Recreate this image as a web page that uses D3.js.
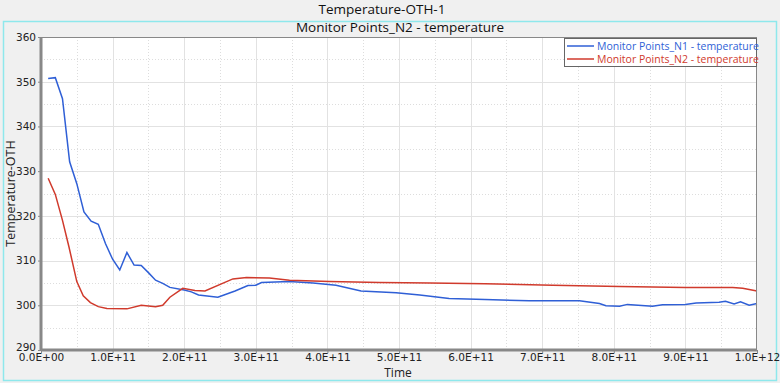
<!DOCTYPE html>
<style>
body { margin: 0; background: #f0f0f0; }
text { font-family: "Open Sans", "Noto Sans", sans-serif; }
.tick text { font-family: "DejaVu Sans", sans-serif; font-size: 10.5px; fill: #222; }
.axis .domain { display: none; }
</style>
<svg width="780" height="383"></svg>
<script src="https://d3js.org/d3.v7.min.js"></script>
<script>

var n1Time = [1e10, 2e10, 3e10, 4e10, 5e10, 6e10, 7e10, 8e10, 9e10, 1.0e11, 1.1e11, 1.2e11, 1.3e11, 1.4e11, 1.5e11,
  1.6e11, 1.7e11, 1.8e11, 2.0e11, 2.1e11, 2.2e11, 2.47e11, 2.71e11, 2.89e11, 3.0e11, 3.08e11, 3.47e11, 3.8e11,
  4.12e11, 4.47e11, 4.96e11, 5.29e11, 5.7e11, 6.2e11, 6.82e11, 7.52e11, 7.8e11, 7.89e11, 8.08e11, 8.19e11,
  8.54e11, 8.68e11, 9.0e11, 9.15e11, 9.47e11, 9.56e11, 9.68e11, 9.77e11, 9.89e11, 1.0e12];
var n1Temp = [350.7, 350.9, 346.2, 332.1, 327.2, 320.9, 318.8, 318.1, 313.8, 310.3, 307.9, 311.8, 309.0, 308.9, 307.3,
  305.6, 304.9, 304.0, 303.4, 303.0, 302.3, 301.8, 303.2, 304.4, 304.5, 305.1, 305.3, 305.0,
  304.5, 303.2, 302.8, 302.3, 301.5, 301.3, 301.0, 301.0, 300.4, 299.9, 299.8, 300.2,
  299.8, 300.1, 300.2, 300.5, 300.7, 300.9, 300.3, 300.8, 300.0, 300.4];

var n2Time = [1e10, 2e10, 3e10, 3.9e10, 5e10, 5.9e10, 6.9e10, 8e10, 9.2e10, 1.2e11, 1.4e11, 1.6e11, 1.7e11, 1.8e11,
  1.98e11, 2.15e11, 2.29e11, 2.68e11, 2.87e11, 3.19e11, 3.47e11, 4.03e11, 4.73e11, 5.43e11, 6.2e11, 7.15e11,
  8.08e11, 9.0e11, 9.66e11, 9.8e11, 1.0e12];
var n2Temp = [328.4, 324.8, 319.0, 313.1, 305.3, 302.1, 300.6, 299.7, 299.3, 299.2, 300.0, 299.7, 300.0, 301.8,
  303.8, 303.3, 303.2, 305.9, 306.2, 306.1, 305.6, 305.3, 305.1, 305.0, 304.8, 304.5,
  304.2, 304.0, 304.0, 303.8, 303.2];

var xTicks = d3.range(0, 11).map(function(i) { return i * 1e11; });
var yTicks = [290, 300, 310, 320, 330, 340, 350, 360];

var series = [
  {name: "Monitor Points_N1 - temperature", color: "#2f5fd6", t: n1Time, v: n1Temp},
  {name: "Monitor Points_N2 - temperature", color: "#d03a2c", t: n2Time, v: n2Temp}
];

var svg = d3.select("svg"),
    margin = {top: 37, right: 23, bottom: 33, left: 41},
    width = +svg.attr("width") - margin.left - margin.right,
    height = +svg.attr("height") - margin.top - margin.bottom;

// outer frame
svg.append("rect")
    .attr("x", 3.5).attr("y", 21.5).attr("width", 773).attr("height", 359)
    .attr("fill", "#f0f0f0").attr("stroke", "#8ee8ec").attr("stroke-width", 1.5);

svg.append("text").attr("x", 382).attr("y", 13.5).attr("text-anchor", "middle")
    .attr("font-size", 13.5).attr("fill", "#111").text("Temperature-OTH-1");
svg.append("text").attr("x", 400).attr("y", 32).attr("text-anchor", "middle")
    .attr("font-size", 13.5).attr("fill", "#111").text("Monitor Points_N2 - temperature");

var g = svg.append("g").attr("transform", "translate(" + margin.left + "," + margin.top + ")");

var x = d3.scaleLinear().domain([0, 1e12]).range([0, width]);
var y = d3.scaleLinear().domain([290, 360]).range([height, 0]);

g.append("rect").attr("width", width).attr("height", height).attr("fill", "#fff");

// minor grid (dotted)
g.append("g").selectAll("line")
    .data(xTicks.slice(0, -1).map(function(d) { return d + 5e10; }))
    .enter().append("line")
      .attr("x1", function(d) { return Math.round(x(d)) + 0.5; })
      .attr("x2", function(d) { return Math.round(x(d)) + 0.5; })
      .attr("y1", 0).attr("y2", height)
      .attr("stroke", "#ddd").attr("stroke-dasharray", "1,2");
g.append("g").selectAll("line")
    .data(yTicks.slice(0, -1).map(function(d) { return d + 5; }))
    .enter().append("line")
      .attr("y1", function(d) { return Math.round(y(d)) + 0.5; })
      .attr("y2", function(d) { return Math.round(y(d)) + 0.5; })
      .attr("x1", 0).attr("x2", width)
      .attr("stroke", "#ddd").attr("stroke-dasharray", "1,2");

// major grid
g.append("g").selectAll("line")
    .data(xTicks.slice(1, -1))
    .enter().append("line")
      .attr("x1", function(d) { return Math.round(x(d)) + 0.5; })
      .attr("x2", function(d) { return Math.round(x(d)) + 0.5; })
      .attr("y1", 0).attr("y2", height)
      .attr("stroke", "#e2e2e2");
g.append("g").selectAll("line")
    .data(yTicks.slice(1, -1))
    .enter().append("line")
      .attr("y1", function(d) { return Math.round(y(d)) + 0.5; })
      .attr("y2", function(d) { return Math.round(y(d)) + 0.5; })
      .attr("x1", 0).attr("x2", width)
      .attr("stroke", "#e2e2e2");

// lines
var line = d3.line()
    .x(function(d) { return x(d[0]); })
    .y(function(d) { return y(d[1]); });

series.forEach(function(s) {
  g.append("path")
      .datum(d3.zip(s.t, s.v))
      .attr("fill", "none")
      .attr("stroke", s.color)
      .attr("stroke-width", 1.5)
      .attr("d", line);
});

// frame
g.append("rect").attr("x", 0.5).attr("y", 0.5).attr("width", width - 1).attr("height", height - 1)
    .attr("fill", "none").attr("stroke", "#888");
g.append("line").attr("x1", 0).attr("x2", 0).attr("y1", 0).attr("y2", height)
    .attr("stroke", "#888").attr("stroke-width", 3);
g.append("line").attr("x1", 0).attr("x2", width).attr("y1", height).attr("y2", height)
    .attr("stroke", "#888").attr("stroke-width", 3);

// axes
g.append("g")
    .attr("class", "axis")
    .attr("transform", "translate(0," + height + ")")
    .call(d3.axisBottom(x).tickValues(xTicks).tickSize(3).tickPadding(1)
      .tickFormat(function(d) { return d3.format(".1e")(d).replace("e+", "E+0").replace(/E\+0(\d\d)/, "E+$1").toUpperCase(); }))
    .call(function(a) { a.selectAll(".tick line").attr("stroke", "#888"); });

g.append("g")
    .attr("class", "axis")
    .call(d3.axisLeft(y).tickValues(yTicks).tickSize(3).tickPadding(2))
    .call(function(a) {
      a.selectAll(".tick line").attr("stroke", "#888");
      a.selectAll(".tick text").attr("dy", function(d) { return d === 290 ? "0em" : "0.32em"; });
    });

svg.append("text")
    .attr("x", 398).attr("y", 377).attr("text-anchor", "middle")
    .attr("font-size", 12).attr("fill", "#222").text("Time");
svg.append("text")
    .attr("transform", "translate(15," + (margin.top + height / 2) + ") rotate(-90)")
    .attr("text-anchor", "middle")
    .attr("font-size", 12.5).attr("fill", "#222").text("Temperature-OTH");

// legend
var legend = g.append("g").attr("transform", "translate(" + (width - 193) + ",1)");
legend.append("rect").attr("x", 0.5).attr("y", 0.5).attr("width", 192).attr("height", 28)
    .attr("fill", "#fff").attr("stroke", "#666");
var item = legend.selectAll(".item")
    .data(series)
    .enter().append("g")
      .attr("transform", function(d, i) { return "translate(0," + (8 + i * 13) + ")"; });
item.append("line").attr("x1", 3).attr("x2", 30).attr("y1", 0).attr("y2", 0)
    .attr("stroke", function(d) { return d.color; }).attr("stroke-width", 1.5);
item.append("text").attr("x", 33).attr("dy", "0.35em")
    .attr("font-size", 10.5).attr("fill", function(d) { return d.color; })
    .text(function(d) { return d.name; });

</script>
